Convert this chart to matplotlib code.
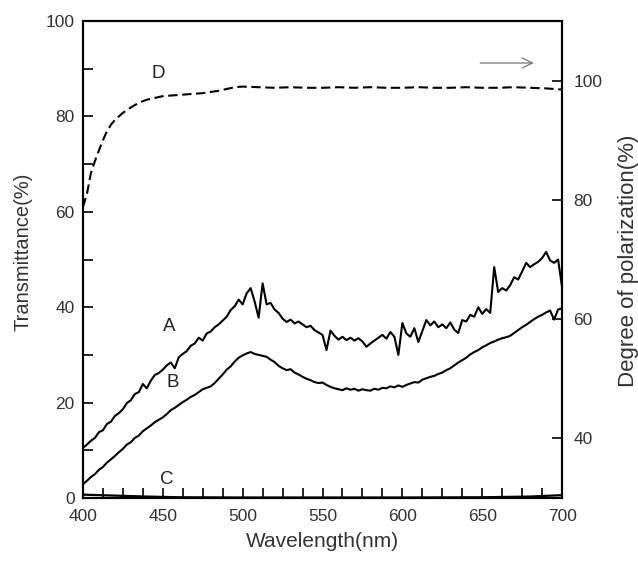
import numpy as np
import matplotlib
matplotlib.use("Agg")
import matplotlib.pyplot as plt
from matplotlib.ticker import MultipleLocator

plt.rcParams['font.family'] = ['Liberation Sans', 'DejaVu Sans']

# Curve A (transmittance %, 400-700 nm, step 2.5 nm)
trans_A = [10.5, 11.2, 12.0, 12.6, 13.8, 14.2, 15.5, 16.0, 17.2, 17.8,
           18.6, 19.9, 20.5, 21.8, 22.2, 23.9, 23.0, 24.6, 25.8, 26.2,
           26.9, 27.8, 28.4, 27.2, 29.5, 30.2, 30.8, 31.9, 32.4, 33.6,
           33.0, 34.5, 34.9, 35.8, 36.4, 37.2, 38.0, 39.4, 40.2, 41.6,
           40.6, 42.9, 44.0, 41.2, 37.8, 45.0, 40.6, 40.9, 39.5, 38.8,
           37.6, 36.9, 37.4, 36.6, 37.0, 36.4, 35.8, 36.1, 35.2, 34.7,
           34.2, 31.0, 35.1, 34.0, 33.2, 33.8, 33.1, 33.6, 33.0, 33.5,
           32.8, 31.7, 32.4, 33.0, 33.6, 34.2, 33.4, 34.8, 33.8, 30.0,
           36.7, 34.5, 33.8, 35.6, 32.7, 35.0, 37.3, 36.2, 37.0, 35.8,
           36.4, 35.6, 36.8, 35.3, 34.6, 37.3, 37.0, 38.4, 38.0, 40.0,
           38.6, 39.6, 38.8, 48.4, 43.2, 44.0, 43.5, 44.6, 46.3, 45.8,
           47.5, 49.3, 48.4, 49.0, 49.5, 50.3, 51.6, 49.8, 49.3, 50.0,
           44.2]

# Curve B (transmittance %, 400-700 nm, step 2.5 nm)
trans_B = [2.9, 3.6, 4.4, 5.0, 5.9, 6.5, 7.4, 8.1, 8.8, 9.6,
           10.3, 11.2, 11.7, 12.6, 13.1, 14.0, 14.6, 15.2, 15.9, 16.4,
           16.9, 17.6, 18.4, 18.9, 19.5, 20.1, 20.6, 21.2, 21.6, 22.2,
           22.8, 23.1, 23.4, 24.1, 25.0, 25.9, 26.9, 27.6, 28.6, 29.4,
           29.9, 30.3, 30.6, 30.2, 30.0, 29.8, 29.6, 29.0, 28.5, 27.7,
           27.2, 26.8, 27.0, 26.3, 25.9, 25.4, 25.0, 24.7, 24.3, 24.1,
           24.2, 23.7, 23.3, 23.0, 22.8, 22.6, 23.0, 22.7, 22.9, 22.5,
           22.8, 22.6, 22.5, 22.9, 22.7, 23.1, 23.0, 23.4, 23.2, 23.6,
           23.3, 23.7, 24.0, 24.3, 24.2, 24.8, 25.1, 25.4, 25.6, 26.0,
           26.3, 26.8, 27.2, 27.8, 28.4, 28.9, 29.4, 30.1, 30.6, 31.0,
           31.6, 32.0, 32.5, 32.8, 33.2, 33.5, 33.7, 34.0, 34.6, 35.2,
           35.8, 36.3, 36.9, 37.5, 38.0, 38.4, 38.9, 39.3, 37.4, 39.5,
           39.8]

# Curve C (transmittance %, near zero)
wl_C = [400, 420, 440, 460, 500, 550, 600, 650, 680, 700]
trans_C = [0.7, 0.5, 0.3, 0.15, 0.1, 0.1, 0.1, 0.15, 0.3, 0.6]

# Curve D (degree of polarization %, right axis)
wl_D = [400, 402.5, 405, 407.5, 410, 412.5, 415, 417.5, 420, 425, 430, 435,
        440, 445, 450, 455, 460, 465, 470, 475, 480, 485, 490, 495, 500,
        510, 520, 530, 540, 550, 560, 570, 580, 590, 600, 610, 620, 630,
        640, 650, 660, 670, 680, 690, 700]
pol_D = [78.8, 81.0, 84.5, 86.5, 88.3, 90.0, 91.5, 92.6, 93.4, 94.6, 95.5, 96.3,
         96.8, 97.1, 97.4, 97.5, 97.6, 97.7, 97.8, 97.9, 98.1, 98.3, 98.6, 98.9, 99.0,
         98.9, 98.8, 98.9, 98.8, 98.8, 98.9, 98.8, 98.9, 98.8, 98.8, 98.9, 98.8, 98.8,
         98.9, 98.8, 98.8, 98.9, 98.8, 98.7, 98.5]

wl_AB = np.linspace(400, 700, len(trans_A))

fig = plt.figure(figsize=(6.38, 5.62), dpi=100)
ax = fig.add_axes([0.130, 0.1139, 0.751, 0.8487])
ax2 = ax.twinx()

ax.plot(wl_AB, trans_A, color='black', lw=1.5)
ax.plot(wl_AB, trans_B, color='black', lw=1.5)
ax.plot(wl_C, trans_C, color='black', lw=1.6)
ax2.plot(wl_D, pol_D, color='black', lw=1.5, dashes=(4.5, 2.2))

ax.set_xlim(400, 700)
ax.set_ylim(0, 100)
ax2.set_ylim(30, 110)

ax.xaxis.set_major_locator(MultipleLocator(50))
ax.xaxis.set_minor_locator(MultipleLocator(12.5))
ax.yaxis.set_major_locator(MultipleLocator(20))
ax.yaxis.set_minor_locator(MultipleLocator(10))
ax2.set_yticks([40, 60, 80, 100])

tc = '#333333'
ax.tick_params(axis='x', which='both', direction='in', top=False, pad=8,
               labelsize=12.5, labelcolor=tc, width=1.2, length=7)
ax.tick_params(axis='y', which='both', direction='in', right=False, pad=6,
               labelsize=12.5, labelcolor=tc, width=1.2, length=7)
ax2.tick_params(axis='y', which='both', direction='in', pad=8,
                labelsize=12.5, labelcolor=tc, width=1.2, length=7)

for a in (ax, ax2):
    for s in a.spines.values():
        s.set_linewidth(1.5)
        s.set_color('black')

ax.set_xlabel('Wavelength(nm)', fontsize=15, color=tc)
ax.set_ylabel('Transmittance(%)', fontsize=14.5, color=tc)
ax2.set_ylabel('Degree of polarization(%)', fontsize=16, color=tc)
ax.xaxis.set_label_coords(0.499, -0.071)
ax.yaxis.set_label_coords(-0.106, 0.516)
ax2.yaxis.set_label_coords(1.117, 0.497)

ax.text(454, 35.9, 'A', fontsize=13.5, ha='center', va='center', color='#222222')
ax.text(456, 24.3, 'B', fontsize=13.5, ha='center', va='center', color='#222222')
ax.text(452.5, 3.8, 'C', fontsize=13.5, ha='center', va='center', color='#222222')
ax.text(447, 89.1, 'D', fontsize=13.5, ha='center', va='center', color='#222222')

ax.annotate('', xy=(684, 91.2), xytext=(647, 91.2),
            arrowprops=dict(arrowstyle='->', color='#777777', lw=0.9,
                            mutation_scale=18))

fig.savefig('out.png', dpi=100)
